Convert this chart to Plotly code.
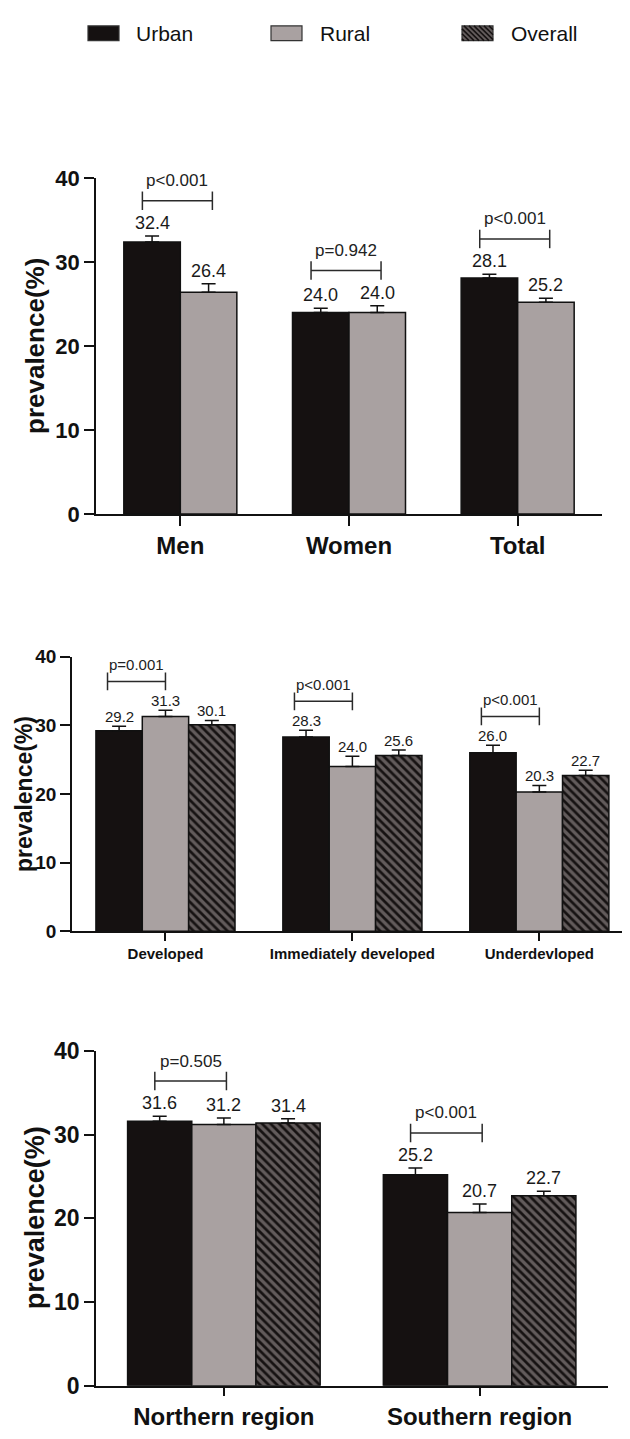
import plotly.graph_objects as go

# page body adds an 8px margin; the figure is sized so the page is 630x1439
PAGE_W, PAGE_H = 630, 1439
OFF = 8
W, H = PAGE_W - OFF, PAGE_H - OFF

# ---------------- data ----------------
series_names = ["Urban", "Rural", "Overall"]
y_ticks = [0, 10, 20, 30, 40]

# Panel 1: by sex
sex_cats = ["Men", "Women", "Total"]
sex_urban = [32.4, 24.0, 28.1]
sex_rural = [26.4, 24.0, 25.2]
sex_urban_err = [0.7, 0.5, 0.45]
sex_rural_err = [1.0, 0.8, 0.5]
sex_p = ["p<0.001", "p=0.942", "p<0.001"]

# Panel 2: by development level
dev_cats = ["Developed", "Immediately developed", "Underdevloped"]
dev_urban = [29.2, 28.3, 26.0]
dev_rural = [31.3, 24.0, 20.3]
dev_overall = [30.1, 25.6, 22.7]
dev_urban_err = [0.65, 1.0, 1.1]
dev_rural_err = [0.9, 1.5, 0.95]
dev_overall_err = [0.6, 0.8, 0.75]
dev_p = ["p=0.001", "p<0.001", "p<0.001"]

# Panel 3: by region
reg_cats = ["Northern region", "Southern region"]
reg_urban = [31.6, 25.2]
reg_rural = [31.2, 20.7]
reg_overall = [31.4, 22.7]
reg_urban_err = [0.6, 0.8]
reg_rural_err = [0.8, 1.0]
reg_overall_err = [0.5, 0.55]
reg_p = ["p=0.505", "p<0.001"]

# ---------------- styling ----------------
FONT = "Liberation Sans, Arial, Helvetica, sans-serif"
URBAN_C = "#151111"
RURAL_C = "#a9a1a1"
OVER_BG = "#625b5b"
OVER_FG = "#161212"
LINE_C = "#111111"

def fx(px):
    return (px - OFF) / W

def fy(py):
    return 1 - (py - OFF) / H

panels = [
    dict(cats=sex_cats, series=[(sex_urban, sex_urban_err), (sex_rural, sex_rural_err)], p=sex_p,
         xdom=(96, 602), ydom=(168, 510), xrange=[-0.5, 2.5], width=0.335,
         xticklen=10, xtickfont=24, ytickfont=22, lab_font=18, lab_shift=13,
         p_font=17, p_shift=20, br=(-0.225, 0.19), br_half=1.1,
         title_x=35, title_font=26),
    dict(cats=dev_cats, series=[(dev_urban, dev_urban_err), (dev_rural, dev_rural_err), (dev_overall, dev_overall_err)], p=dev_p,
         xdom=(72, 630), ydom=(655.5, 935), xrange=[-0.5, 2.485], width=0.248,
         xticklen=8, xtickfont=15, ytickfont=19, lab_font=15, lab_shift=10,
         p_font=15, p_shift=17, br=(-0.31, 0.0), br_half=1.3,
         title_x=24, title_font=23),
    dict(cats=reg_cats, series=[(reg_urban, reg_urban_err), (reg_rural, reg_rural_err), (reg_overall, reg_overall_err)], p=reg_p,
         xdom=(96, 607.5), ydom=(1057, 1398), xrange=[-0.5, 1.5], width=0.251,
         xticklen=9, xtickfont=24, ytickfont=23, lab_font=18, lab_shift=13,
         p_font=17, p_shift=20, br=(-0.27, 0.01), br_half=1.1,
         title_x=35, title_font=27),
]

fig = go.Figure()
shapes = []
annotations = []

for i, pn in enumerate(panels):
    sfx = "" if i == 0 else str(i + 1)
    xa, ya = "x" + sfx, "y" + sfx
    n_series = len(pn["series"])
    w = pn["width"]
    offsets = [(-n_series / 2 + k) * w for k in range(n_series)]
    for k, (vals, errs) in enumerate(pn["series"]):
        marker = dict(line=dict(color=LINE_C, width=1.5))
        if k == 0:
            marker["color"] = URBAN_C
        elif k == 1:
            marker["color"] = RURAL_C
        else:
            marker["color"] = OVER_BG
            marker["pattern"] = dict(shape="\\", bgcolor=OVER_BG, fgcolor=OVER_FG,
                                     size=6, solidity=0.45, fillmode="replace")
        fig.add_trace(go.Bar(
            x=pn["cats"], y=vals, name=series_names[k], showlegend=False,
            width=w, offset=offsets[k], marker=marker,
            error_y=dict(type="data", array=errs, arrayminus=[0] * len(errs), symmetric=False,
                         color=LINE_C, thickness=1.5, width=7),
            xaxis=xa, yaxis=ya,
        ))
        # value labels above the error bars
        for j, (v, e) in enumerate(zip(vals, errs)):
            annotations.append(dict(
                x=j + offsets[k] + w / 2, y=v + e, xref=xa, yref=ya,
                text=f"{v:.1f}", showarrow=False, yanchor="middle", yshift=pn["lab_shift"],
                font=dict(family=FONT, size=pn["lab_font"], color="#1a1a1a")))
    # p-value brackets between urban and rural
    u_vals, u_err = pn["series"][0]
    r_vals, r_err = pn["series"][1]
    for j, ptxt in enumerate(pn["p"]):
        top = max(u_vals[j] + u_err[j], r_vals[j] + r_err[j])
        yb = top + 4.2
        x0, x1 = j + pn["br"][0], j + pn["br"][1]
        hh = pn["br_half"]
        lc = dict(color="#2a2a2a", width=1.5)
        shapes.append(dict(type="line", xref=xa, yref=ya, x0=x0, x1=x1, y0=yb, y1=yb, line=lc))
        shapes.append(dict(type="line", xref=xa, yref=ya, x0=x0, x1=x0, y0=yb - hh, y1=yb + hh, line=lc))
        shapes.append(dict(type="line", xref=xa, yref=ya, x0=x1, x1=x1, y0=yb - hh, y1=yb + hh, line=lc))
        annotations.append(dict(
            x=(x0 + x1) / 2, y=yb, xref=xa, yref=ya, text=ptxt, showarrow=False,
            yanchor="middle", yshift=pn["p_shift"],
            font=dict(family=FONT, size=pn["p_font"], color="#222222")))
    # y-axis title
    annotations.append(dict(
        x=fx(pn["title_x"]), y=(fy(pn["ydom"][0]) + fy(pn["ydom"][1])) / 2,
        xref="paper", yref="paper", text="prevalence(%)", textangle=-90, showarrow=False,
        xanchor="center", yanchor="middle",
        font=dict(family=FONT, size=pn["title_font"], color="#111111", weight="bold")))

    axis_common = dict(showline=True, linecolor=LINE_C, linewidth=1.5, showgrid=False,
                       zeroline=False, ticks="outside", tickcolor=LINE_C, tickwidth=1.5)
    fig.layout["xaxis" + sfx] = dict(
        domain=[fx(pn["xdom"][0]), min(1.0, fx(pn["xdom"][1]))], anchor=ya, type="category",
        range=pn["xrange"], ticklen=pn["xticklen"],
        tickfont=dict(family=FONT, size=pn["xtickfont"], color="#111111", weight="bold"),
        **axis_common)
    fig.layout["yaxis" + sfx] = dict(
        domain=[fy(pn["ydom"][1]), fy(pn["ydom"][0])], anchor=xa, range=[0, 40],
        tickvals=y_ticks, ticklen=10,
        tickfont=dict(family=FONT, size=pn["ytickfont"], color="#111111", weight="bold"),
        **axis_common)

# ---------------- manual legend ----------------
legend_items = [(88, 134, URBAN_C), (271, 318, RURAL_C), (462, 509, OVER_BG)]
ly0, ly1 = 13, 28
for k, (bx, tx, col) in enumerate(legend_items):
    shapes.append(dict(type="rect", xref="paper", yref="paper",
                       x0=fx(bx), x1=fx(bx + 31), y0=fy(ly1), y1=fy(ly0),
                       fillcolor=col, line=dict(color="#333333", width=1.2)))
    if k == 2:
        x0b, x1b = bx, bx + 31
        c = x0b - ly1 + 2
        while c < x1b - ly0:
            ya0 = max(ly0, x0b - c)
            ya1 = min(ly1, x1b - c)
            if ya1 > ya0:
                shapes.append(dict(type="line", xref="paper", yref="paper",
                                   x0=fx(ya0 + c), y0=fy(ya0), x1=fx(ya1 + c), y1=fy(ya1),
                                   line=dict(color=OVER_FG, width=1.5)))
            c += 5
    annotations.append(dict(x=fx(tx), y=fy(21), xref="paper", yref="paper",
                            text=series_names[k], showarrow=False, xanchor="left", yanchor="middle",
                            font=dict(family=FONT, size=21, color="#111111")))

fig.update_layout(
    width=W, height=H, margin=dict(l=0, r=0, t=0, b=0),
    paper_bgcolor="white", plot_bgcolor="white",
    barmode="overlay", showlegend=False,
    shapes=shapes, annotations=annotations,
    font=dict(family=FONT, color="#111111"),
)

fig.write_html("out.html")
